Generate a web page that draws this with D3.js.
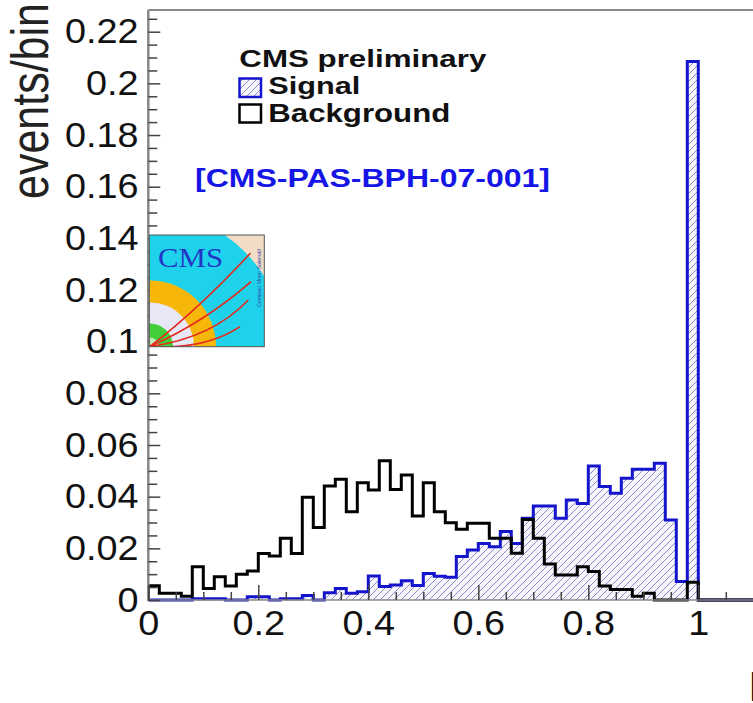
<!DOCTYPE html>
<html>
<head>
<meta charset="utf-8">
<script src="https://cdn.jsdelivr.net/npm/d3@7/dist/d3.min.js"></script>
<style>
  html, body { margin: 0; padding: 0; background: #fff; overflow: hidden; }
  svg { display: block; }
</style>
</head>
<body>
<svg id="chart" width="753" height="703"></svg>
<script>
// Isolation distributions, normalised to unit area, 0.02-wide bins starting at 0
const binWidth = 0.02;
const signalValues = [
  0, 0, 0, 0, 0.0005, 0.0005, 0.0005, 0, 0, 0.0013,
  0.0013, 0, 0.0005, 0.0005, 0.0017, 0, 0.0028, 0.0045, 0.0026, 0.0032,
  0.0093, 0.0052, 0.0058, 0.0075, 0.0056, 0.0103, 0.0092, 0.0088, 0.0168, 0.0194,
  0.0219, 0.0206, 0.0265, 0.0219, 0.0316, 0.0364, 0.0364, 0.0316, 0.0387, 0.0374,
  0.0519, 0.0439, 0.0413, 0.0471, 0.0506, 0.0506, 0.0529, 0.0310, 0.0072, 0.2085,
  0, 0, 0, 0, 0
];
const backgroundValues = [
  0.0055, 0.0026, 0.0026, 0.0015, 0.0129, 0.0045, 0.0090, 0.0054, 0.0100, 0.0112,
  0.0180, 0.0170, 0.0239, 0.0180, 0.0398, 0.0281, 0.0441, 0.0467, 0.0342, 0.0454,
  0.0426, 0.0539, 0.0428, 0.0484, 0.0325, 0.0454, 0.0342, 0.0299, 0.0274, 0.0297,
  0.0297, 0.0239, 0.0239, 0.0181, 0.0312, 0.0239, 0.0139, 0.0097, 0.0097, 0.0129,
  0.0110, 0.0054, 0.0041, 0.0041, 0.0015, 0.0026, 0, 0, 0, 0.0069,
  0, 0, 0, 0, 0
];
const xMajorTicks = [0, 0.2, 0.4, 0.6, 0.8, 1];
const xTickLabels = ["0", "0.2", "0.4", "0.6", "0.8", "1"];
const yMajorTicks = [0, 0.02, 0.04, 0.06, 0.08, 0.1, 0.12, 0.14, 0.16, 0.18, 0.2, 0.22];
const yTickLabels = ["0", "0.02", "0.04", "0.06", "0.08", "0.1", "0.12", "0.14", "0.16", "0.18", "0.2", "0.22"];
const legendLabels = ["Signal", "Background"];

const svg = d3.select("#chart");
const W = 753;
const plotLeft = 148.3, plotBottom = 600, plotTop = 10;

const x = d3.scaleLinear().domain([0, 1]).range([plotLeft, 698.3]);
const y = d3.scaleLinear().domain([0, 0.22]).range([plotBottom, 31.7]);
const yTopValue = y.invert(plotTop);

const defs = svg.append("defs");
const hatch = defs.append("pattern")
  .attr("id", "hatch").attr("patternUnits", "userSpaceOnUse")
  .attr("width", 7).attr("height", 7);
hatch.append("rect").attr("width", 7).attr("height", 7).attr("fill", "#f5f5fb");
hatch.append("path")
  .attr("d", "M-1,1 L1,-1 M0,7 L7,0 M6,8 L8,6")
  .attr("stroke", "#8c8cc8").attr("stroke-width", 1);

defs.append("clipPath").attr("id", "plotClip")
  .append("rect").attr("x", plotLeft).attr("y", plotTop)
  .attr("width", W - plotLeft).attr("height", plotBottom - plotTop + 3);

// step outline of a histogram: up from zero, across each bin, back to zero
function stepPoints(values) {
  const pts = [[0, 0]];
  values.forEach((v, i) => {
    pts.push([i * binWidth, v]);
    pts.push([(i + 1) * binWidth, v]);
  });
  pts.push([values.length * binWidth, 0]);
  return pts;
}
const line = d3.line().x(d => x(d[0])).y(d => y(d[1]));
const area = d3.area().x(d => x(d[0])).y0(y(0)).y1(d => y(d[1]));

const plot = svg.append("g").attr("clip-path", "url(#plotClip)");
const sigPts = stepPoints(signalValues);
plot.append("path").attr("d", area(sigPts)).attr("fill", "url(#hatch)");
plot.append("path").attr("d", line(sigPts))
  .attr("fill", "none").attr("stroke", "#1414cc").attr("stroke-width", 3);
plot.append("path").attr("d", line(stepPoints(backgroundValues)))
  .attr("fill", "none").attr("stroke", "#000").attr("stroke-width", 3);

// frame lines
const frame = svg.append("g").attr("stroke", "#888").attr("fill", "none");
frame.append("line").attr("x1", plotLeft).attr("x2", W).attr("y1", plotTop).attr("y2", plotTop).attr("stroke-width", 2);
frame.append("line").attr("x1", plotLeft).attr("x2", W).attr("y1", plotBottom).attr("y2", plotBottom).attr("stroke-width", 1.5);
frame.append("line").attr("x1", plotLeft).attr("x2", plotLeft).attr("y1", plotTop).attr("y2", plotBottom + 1).attr("stroke-width", 2.5);

// axes (ticks point into the frame)
const xMinor = d3.range(0, 1.25, 0.05).filter(v => Math.abs(v / 0.2 - Math.round(v / 0.2)) > 1e-6);
const yMinor = d3.range(0, yTopValue, 0.005).filter(v => Math.abs(v / 0.02 - Math.round(v / 0.02)) > 1e-6);

svg.append("g").attr("transform", `translate(0,${plotBottom})`)
  .call(d3.axisBottom(x).tickValues(xMajorTicks).tickSize(-15).tickPadding(10)
    .tickFormat((d, i) => xTickLabels[i]));
svg.append("g").attr("transform", `translate(0,${plotBottom})`)
  .call(d3.axisBottom(x).tickValues(xMinor).tickSize(-8).tickFormat(""));
svg.append("g").attr("transform", `translate(${plotLeft},0)`)
  .call(d3.axisLeft(y).tickValues(yMajorTicks).tickSize(-12).tickPadding(9)
    .tickFormat((d, i) => yTickLabels[i]));
svg.append("g").attr("transform", `translate(${plotLeft},0)`)
  .call(d3.axisLeft(y).tickValues(yMinor).tickSize(-9).tickFormat(""));
svg.selectAll(".domain").remove();
svg.selectAll(".tick line").attr("stroke", "#444").attr("stroke-width", 1.5);
svg.selectAll(".tick text")
  .attr("font-family", "'Liberation Sans', Arial, sans-serif")
  .attr("font-size", 35).attr("fill", "#111")
  .attr("transform", "scale(1.08,1)");

// axis titles
svg.append("text")
  .attr("transform", "translate(48,3) scale(1.2,1) rotate(-90)")
  .attr("text-anchor", "end")
  .attr("font-family", "'Liberation Sans', Arial, sans-serif")
  .attr("font-size", 43).attr("fill", "#222")
  .text("events/bin");
svg.append("text")
  .attr("x", 748).attr("y", 701)
  .attr("font-family", "'Liberation Sans', Arial, sans-serif")
  .attr("font-size", 43).attr("fill", "#111")
  .text("Isolation");

// CMS logo
const lg = { x: 149.3, y: 235, w: 115, h: 111.7 };
const ox = 150, oy = 346.5;
defs.append("clipPath").attr("id", "logoClip")
  .append("rect").attr("x", lg.x).attr("y", lg.y).attr("width", lg.w).attr("height", lg.h);
const logo = svg.append("g").attr("clip-path", "url(#logoClip)");
logo.append("rect").attr("x", lg.x).attr("y", lg.y).attr("width", lg.w).attr("height", lg.h).attr("fill", "#f3dcc6");
[[134, "#1ed2ec"], [66, "#f6b60a"], [44, "#e7e7f6"], [23, "#43cf3a"], [9, "#bfeab5"]].forEach(([r, c]) => {
  logo.append("circle").attr("cx", ox).attr("cy", oy).attr("r", r).attr("fill", c);
});
[
  [200, 308, 250.5, 253],
  [205, 322, 251, 281.7],
  [212, 338, 248.3, 300],
  [205, 350, 240, 326.7]
].forEach(([cx, cy, ex, ey]) => {
  logo.append("path").attr("d", `M${ox},${oy} Q${cx},${cy} ${ex},${ey}`)
    .attr("fill", "none").attr("stroke", "#e5281c").attr("stroke-width", 1.6);
});
logo.append("text").attr("x", 158).attr("y", 266.7)
  .attr("font-family", "'Liberation Serif', 'Times New Roman', serif")
  .attr("font-size", 28).attr("fill", "#2436c8")
  .attr("textLength", 65).attr("lengthAdjust", "spacingAndGlyphs")
  .text("CMS");
logo.append("text")
  .attr("transform", "translate(261,307) rotate(-90)")
  .attr("font-family", "'Liberation Sans', Arial, sans-serif")
  .attr("font-size", 5.5).attr("fill", "#3344aa")
  .attr("textLength", 58).attr("lengthAdjust", "spacingAndGlyphs")
  .text("Compact Muon Solenoid");
svg.append("rect").attr("x", lg.x).attr("y", lg.y).attr("width", lg.w).attr("height", lg.h)
  .attr("fill", "none").attr("stroke", "#555").attr("stroke-width", 1);

// legend
const boldFont = "'Liberation Sans', Arial, Helvetica, sans-serif";
svg.append("text").attr("x", 239.3).attr("y", 67)
  .attr("font-family", boldFont).attr("font-weight", "bold").attr("font-size", 23).attr("fill", "#111")
  .attr("textLength", 247).attr("lengthAdjust", "spacingAndGlyphs")
  .text("CMS preliminary");
svg.append("rect").attr("x", 239.5).attr("y", 78.5).attr("width", 21.5).attr("height", 18.5)
  .attr("fill", "url(#hatch)").attr("stroke", "#1414cc").attr("stroke-width", 2.5);
svg.append("rect").attr("x", 239.5).attr("y", 104.5).attr("width", 21.5).attr("height", 18)
  .attr("fill", "#fff").attr("stroke", "#000").attr("stroke-width", 2.5);
svg.append("text").attr("x", 268.3).attr("y", 93.5)
  .attr("font-family", boldFont).attr("font-weight", "bold").attr("font-size", 24).attr("fill", "#111")
  .attr("textLength", 92).attr("lengthAdjust", "spacingAndGlyphs")
  .text(legendLabels[0]);
svg.append("text").attr("x", 268.3).attr("y", 121.5)
  .attr("font-family", boldFont).attr("font-weight", "bold").attr("font-size", 25).attr("fill", "#111")
  .attr("textLength", 182).attr("lengthAdjust", "spacingAndGlyphs")
  .text(legendLabels[1]);

svg.append("text").attr("x", 195).attr("y", 186.7)
  .attr("font-family", boldFont).attr("font-weight", "bold").attr("font-size", 25.5).attr("fill", "#1515e6")
  .attr("textLength", 355).attr("lengthAdjust", "spacingAndGlyphs")
  .text("[CMS-PAS-BPH-07-001]");
</script>
</body>
</html>
